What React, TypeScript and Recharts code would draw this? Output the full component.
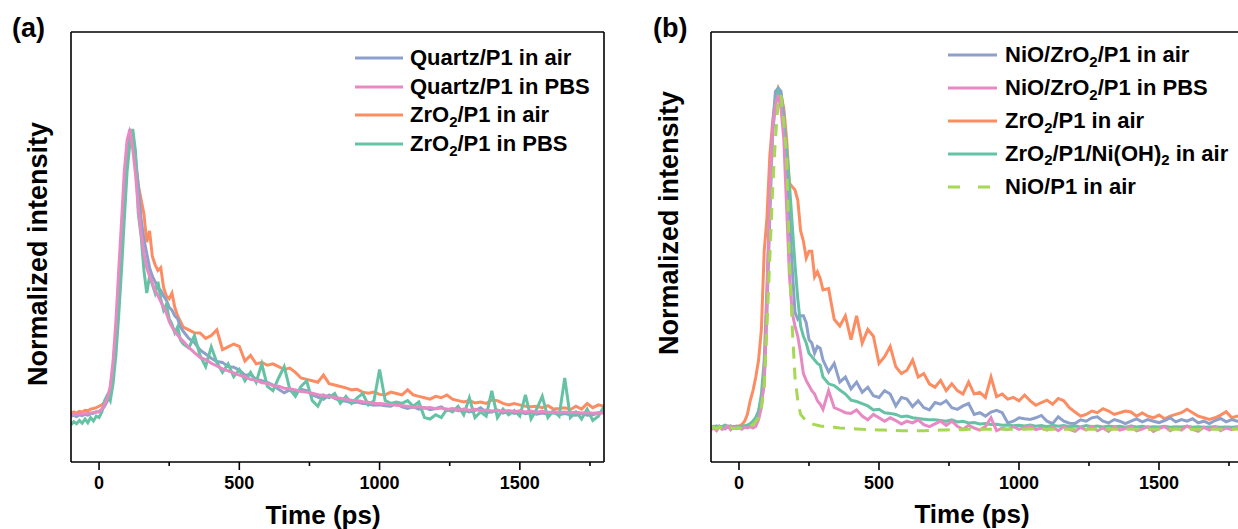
import React from "react";
import { Legend, Line, LineChart, XAxis, YAxis } from "recharts";

const FONT = "'Liberation Sans', Arial, sans-serif";

// time grid (ps), shared by both panels
const TIME_PS = [
  -100, -90, -80, -70, -60, -50, -40, -30, -20, -10,
  0, 10, 20, 30, 40, 50, 60, 70, 80, 90,
  100, 110, 120, 130, 140, 150, 160, 170, 180, 190,
  200, 210, 220, 230, 240, 250, 260, 270, 280, 290,
  300, 320, 340, 360, 380, 400, 420, 440, 460, 480,
  500, 520, 540, 560, 580, 600, 620, 640, 660, 680,
  700, 720, 740, 760, 780, 800, 820, 840, 860, 880,
  900, 920, 940, 960, 980, 1000, 1020, 1040, 1060, 1080,
  1100, 1120, 1140, 1160, 1180, 1200, 1220, 1240, 1260, 1280,
  1300, 1320, 1340, 1360, 1380, 1400, 1420, 1440, 1460, 1480,
  1500, 1520, 1540, 1560, 1580, 1600, 1620, 1640, 1660, 1680,
  1700, 1720, 1740, 1760, 1780, 1800,
];

const X_TICKS = [0, 250, 500, 750, 1000, 1250, 1500, 1750];

// ---- panel (a) ----
const QUARTZ_AIR = [
  -0.015, -0.012, -0.016, -0.01, -0.013, -0.008, -0.011, -0.006, -0.005, 0.0,
  0.002, 0.008, 0.02, 0.04, 0.08, 0.16, 0.28, 0.45, 0.63, 0.8,
  0.94, 0.99, 0.96, 0.9, 0.8, 0.68, 0.61, 0.56, 0.51, 0.48,
  0.46, 0.44, 0.43, 0.41, 0.395, 0.37, 0.36, 0.34, 0.33, 0.3,
  0.285, 0.26, 0.245, 0.219, 0.205, 0.19, 0.178, 0.175, 0.16, 0.158,
  0.148, 0.13, 0.132, 0.115, 0.11, 0.104, 0.095, 0.08, 0.068, 0.078,
  0.07, 0.08, 0.075, 0.06, 0.052, 0.045, 0.06, 0.048, 0.04, 0.038,
  0.032, 0.035, 0.03, 0.028, 0.024, 0.025, 0.022, 0.02, 0.03, 0.018,
  0.012, 0.018, 0.01, 0.015, 0.008, 0.012, 0.018, 0.005, 0.01, 0.004,
  0.006, 0.0, 0.005, 0.015, -0.002, 0.0, 0.006, -0.004, 0.002, -0.005,
  0.0, -0.006, -0.002, -0.008, -0.004, -0.008, -0.003, -0.01, -0.006, -0.01,
  -0.012, -0.006, -0.012, -0.01, -0.004, 0.0,
];

const QUARTZ_PBS = [
  -0.01, -0.01, -0.008, -0.008, -0.006, -0.006, -0.005, -0.004, -0.002, 0.0,
  0.0, 0.01, 0.025, 0.05, 0.09, 0.18, 0.32, 0.5, 0.67, 0.85,
  0.96, 1.0, 0.93, 0.84, 0.72, 0.63, 0.56, 0.51, 0.48, 0.455,
  0.43, 0.41, 0.39, 0.37, 0.35, 0.32, 0.3, 0.285, 0.272, 0.26,
  0.25, 0.228, 0.21, 0.193, 0.185, 0.172, 0.163, 0.152, 0.145, 0.138,
  0.13, 0.124, 0.115, 0.112, 0.103, 0.101, 0.093, 0.091, 0.084, 0.082,
  0.078, 0.072, 0.07, 0.066, 0.061, 0.058, 0.055, 0.05, 0.048, 0.045,
  0.041, 0.04, 0.036, 0.034, 0.031, 0.03, 0.028, 0.026, 0.024, 0.022,
  0.02, 0.016, 0.019, 0.014, 0.016, 0.011, 0.014, 0.009, 0.012, 0.007,
  0.01, 0.006, 0.009, 0.004, 0.007, 0.003, 0.006, 0.002, 0.005, 0.001,
  0.004, 0.0, 0.003, -0.001, 0.002, -0.002, 0.001, -0.002, 0.0, -0.003,
  -0.001, -0.004, -0.002, -0.005, -0.003, -0.004,
];

const ZRO2_AIR_A = [
  -0.005, 0.0, -0.004, 0.002, 0.0, 0.006, 0.004, 0.01, 0.012, 0.015,
  0.02, 0.025, 0.035, 0.05, 0.07, 0.13, 0.26, 0.43, 0.62, 0.8,
  0.93, 0.98, 0.95, 0.88, 0.8, 0.75, 0.7, 0.6, 0.64, 0.55,
  0.52, 0.5, 0.51, 0.44, 0.41, 0.4, 0.42, 0.37, 0.34, 0.32,
  0.3, 0.29, 0.28, 0.279, 0.26, 0.27, 0.29, 0.22, 0.23, 0.24,
  0.232, 0.18, 0.2, 0.17, 0.175, 0.165, 0.17, 0.16, 0.15, 0.155,
  0.14, 0.12, 0.115, 0.11, 0.105, 0.13, 0.1, 0.095, 0.09, 0.085,
  0.078, 0.08, 0.07, 0.066, 0.07, 0.062, 0.06, 0.07, 0.065, 0.06,
  0.078, 0.06, 0.055, 0.05, 0.045, 0.055, 0.05, 0.06, 0.045, 0.04,
  0.035, 0.04, 0.032, 0.035, 0.03, 0.042, 0.04, 0.03, 0.025, 0.03,
  0.025, 0.02, 0.018, 0.02, 0.015, 0.022, 0.01, 0.012, 0.015, 0.008,
  0.02, 0.01, 0.03, 0.015, 0.025, 0.02,
];

const ZRO2_PBS_A = [
  -0.045, -0.035, -0.042, -0.03, -0.04, -0.025, -0.038, -0.02, -0.032, -0.015,
  -0.02, 0.0, 0.04, 0.06, 0.04, 0.1, 0.2, 0.34, 0.5, 0.68,
  0.85, 0.95, 1.0, 0.92, 0.7, 0.62, 0.5, 0.42, 0.48, 0.45,
  0.42, 0.46, 0.4, 0.36, 0.38, 0.33, 0.31, 0.28, 0.3, 0.255,
  0.24, 0.226, 0.27, 0.2, 0.16, 0.23, 0.175, 0.14, 0.17, 0.125,
  0.15, 0.11, 0.14, 0.105, 0.17, 0.09, 0.075, 0.12, 0.16, 0.08,
  0.055, 0.09, 0.11, 0.04, 0.02, 0.06, 0.05, 0.065, 0.03, 0.055,
  0.03, 0.05, 0.065, 0.025, 0.04, 0.15, 0.04, 0.03, 0.035, 0.03,
  0.04, 0.02, 0.035, -0.02, -0.025, -0.01, -0.02, 0.01, 0.0, 0.02,
  -0.01, 0.05, -0.02, 0.0, -0.015, 0.075, -0.02, 0.01, -0.01, 0.005,
  -0.015, 0.06, -0.025, 0.01, 0.055, -0.02, 0.005, -0.015, 0.12, -0.02,
  0.0, -0.025, 0.01, -0.03, -0.015, 0.02,
];

// ---- panel (b) ----
const NIO_ZRO2_AIR = [
  0.0, 0.004, -0.002, 0.006, 0.002, -0.003, 0.004, 0.0, 0.005, 0.002,
  0.002, 0.005, 0.006, 0.008, 0.012, 0.02, 0.03, 0.05, 0.08, 0.13,
  0.35, 0.62, 0.88, 0.99, 1.0, 0.99, 0.92, 0.8, 0.63, 0.47,
  0.34, 0.32, 0.33, 0.33, 0.31, 0.26, 0.25, 0.22, 0.24, 0.235,
  0.2, 0.165, 0.19, 0.135, 0.15, 0.115, 0.135, 0.105, 0.12, 0.095,
  0.09, 0.11, 0.1, 0.065, 0.09, 0.085, 0.063, 0.08, 0.06, 0.053,
  0.075, 0.07, 0.08, 0.06, 0.055, 0.065, 0.072, 0.04, 0.045, 0.035,
  0.047, 0.052, 0.045, 0.015, 0.02, 0.03, 0.027, 0.025, 0.03, 0.037,
  0.02, 0.013, 0.033, 0.02, 0.014, 0.013, 0.024, 0.02, 0.03, 0.033,
  0.02, 0.015, 0.025, 0.02, 0.013, 0.02, 0.027, 0.018, 0.025, 0.02,
  0.016, 0.022, 0.03, 0.018, 0.025, 0.02, 0.027, 0.015, 0.02, 0.013,
  0.022, 0.028, 0.018, 0.025, 0.02, 0.022,
];

const NIO_ZRO2_PBS = [
  -0.005, 0.0, -0.008, 0.004, -0.004, 0.0, 0.006, -0.005, 0.002, -0.002,
  0.0, -0.004, 0.002, 0.0, 0.004, 0.0, 0.005, 0.025, 0.06, 0.14,
  0.38, 0.68, 0.88, 0.95, 0.98, 0.94, 0.85, 0.65, 0.45, 0.34,
  0.3, 0.27, 0.22, 0.16, 0.14, 0.125, 0.11, 0.1, 0.08, 0.07,
  0.055, 0.11, 0.06, 0.053, 0.045, 0.043, 0.053, 0.035, 0.024, 0.04,
  0.03, 0.02, 0.03, 0.022, 0.012, 0.02, 0.015, 0.024, 0.01, 0.004,
  0.012, 0.02, 0.008, 0.02, 0.005, -0.004, 0.008, 0.0, -0.006, 0.004,
  0.03, -0.008, 0.0, -0.005, 0.004, -0.004, 0.002, 0.006, -0.005, 0.0,
  -0.006, 0.003, -0.008, 0.004, -0.004, -0.01, 0.002, -0.006, 0.005, -0.008,
  0.0, -0.01, 0.004, -0.006, -0.002, 0.005, -0.008, -0.003, 0.004, -0.01,
  -0.002, 0.004, -0.008, 0.0, -0.006, 0.006, -0.004, -0.01, 0.002, -0.006,
  0.004, -0.008, 0.0, -0.005, 0.002, -0.004,
];

const ZRO2_AIR_B = [
  0.0, 0.005, -0.003, 0.004, 0.0, 0.008, 0.002, 0.006, 0.0, 0.005,
  0.005, 0.01, 0.02, 0.04, 0.08, 0.11, 0.15, 0.2, 0.29, 0.52,
  0.62, 0.8, 0.9, 0.97, 1.0, 0.98, 0.94, 0.85, 0.72, 0.71,
  0.7, 0.67, 0.58, 0.55, 0.5, 0.52, 0.52, 0.445, 0.46, 0.44,
  0.406, 0.41, 0.32, 0.3, 0.33, 0.26, 0.33, 0.25, 0.29, 0.27,
  0.19, 0.21, 0.24, 0.18, 0.16, 0.17, 0.2, 0.15, 0.16, 0.13,
  0.12, 0.14, 0.11, 0.13, 0.11, 0.1, 0.135, 0.1, 0.105, 0.09,
  0.15, 0.092, 0.1, 0.085, 0.09, 0.08, 0.097, 0.08, 0.067, 0.075,
  0.082, 0.07, 0.087, 0.08, 0.06, 0.047, 0.035, 0.04, 0.05, 0.045,
  0.057, 0.05, 0.04, 0.045, 0.05, 0.047, 0.035, 0.044, 0.035, 0.03,
  0.038, 0.027, 0.035, 0.04, 0.045, 0.055, 0.045, 0.035, 0.03, 0.025,
  0.03, 0.038, 0.048, 0.03, 0.035, 0.03,
];

const ZRO2_NIOH2_AIR = [
  0.0, 0.003, 0.006, 0.002, 0.005, 0.008, 0.004, 0.006, 0.003, 0.005,
  0.005, 0.004, 0.006, 0.008, 0.012, 0.02, 0.03, 0.05, 0.1, 0.2,
  0.42, 0.66, 0.86, 0.96, 0.99, 0.96, 0.9, 0.82, 0.72, 0.6,
  0.48, 0.38, 0.3, 0.27, 0.25, 0.22, 0.21, 0.2, 0.19, 0.185,
  0.15, 0.13, 0.125, 0.112, 0.1, 0.082, 0.078, 0.072, 0.065, 0.053,
  0.055, 0.045, 0.043, 0.04, 0.033, 0.035, 0.03, 0.028, 0.026, 0.024,
  0.024, 0.022, 0.02, 0.024, 0.018, 0.02, 0.015, 0.016, 0.012, 0.013,
  0.01, 0.011, 0.008, 0.009, 0.007, 0.008, 0.006, 0.009, 0.005, 0.007,
  0.004, 0.008, 0.005, 0.007, 0.004, 0.006, 0.003, 0.007, 0.004, 0.006,
  0.003, 0.006, 0.004, 0.005, 0.002, 0.006, 0.003, 0.005, 0.002, 0.004,
  0.003, 0.005, 0.002, 0.004, 0.003, 0.005, 0.002, 0.004, 0.002, 0.003,
  0.004, 0.002, 0.003, 0.002, 0.004, 0.003,
];

const NIO_AIR = [
  0.0, 0.002, -0.002, 0.003, 0.0, 0.004, 0.0, 0.002, -0.002, 0.0,
  0.0, 0.0, 0.002, 0.004, 0.006, 0.01, 0.02, 0.03, 0.06, 0.12,
  0.3, 0.5, 0.7, 0.85, 0.96, 0.98, 0.9, 0.8, 0.5, 0.3,
  0.15, 0.08, 0.04, 0.03, 0.02, 0.014, 0.012, 0.01, 0.008, 0.006,
  0.005, 0.003, 0.002, 0.0, -0.001, -0.002, -0.003, -0.004, -0.005, -0.005,
  -0.006, -0.006, -0.007, -0.007, -0.008, -0.008, -0.008, -0.008, -0.008, -0.007,
  -0.007, -0.006, -0.006, -0.005, -0.005, -0.005, -0.004, -0.004, -0.004, -0.004,
  -0.004, -0.004, -0.004, -0.003, -0.004, -0.004, -0.004, -0.003, -0.003, -0.004,
  -0.004, -0.004, -0.004, -0.004, -0.004, -0.004, -0.004, -0.004, -0.004, -0.004,
  -0.004, -0.004, -0.004, -0.004, -0.004, -0.004, -0.004, -0.004, -0.004, -0.004,
  -0.004, -0.004, -0.004, -0.004, -0.004, -0.004, -0.004, -0.004, -0.004, -0.004,
  -0.004, -0.004, -0.004, -0.004, -0.004, -0.004,
];

const BLUE = "#8da0cb";
const PINK = "#e78ac3";
const ORANGE = "#fc8d62";
const GREEN = "#66c2a5";
const LIME = "#a6d854";

const rowsA = TIME_PS.map((t, i) => ({
  t,
  quartzAir: QUARTZ_AIR[i],
  quartzPbs: QUARTZ_PBS[i],
  zro2Air: ZRO2_AIR_A[i],
  zro2Pbs: ZRO2_PBS_A[i],
}));

const rowsB = TIME_PS.map((t, i) => ({
  t,
  nioZro2Air: NIO_ZRO2_AIR[i],
  nioZro2Pbs: NIO_ZRO2_PBS[i],
  zro2Air: ZRO2_AIR_B[i],
  zro2NiOH2: ZRO2_NIOH2_AIR[i],
  nioAir: NIO_AIR[i],
}));

type Item = { key: string; label: string; color: string; dash?: boolean };

// legend order as in the figure; draw order is set separately below
const LEGEND_A: Item[] = [
  { key: "quartzAir", label: "Quartz/P1 in air", color: BLUE },
  { key: "quartzPbs", label: "Quartz/P1 in PBS", color: PINK },
  { key: "zro2Air", label: "ZrO_2/P1 in air", color: ORANGE },
  { key: "zro2Pbs", label: "ZrO_2/P1 in PBS", color: GREEN },
];

const LEGEND_B: Item[] = [
  { key: "nioZro2Air", label: "NiO/ZrO_2/P1 in air", color: BLUE },
  { key: "nioZro2Pbs", label: "NiO/ZrO_2/P1 in PBS", color: PINK },
  { key: "zro2Air", label: "ZrO_2/P1 in air", color: ORANGE },
  { key: "zro2NiOH2", label: "ZrO_2/P1/Ni(OH)_2 in air", color: GREEN },
  { key: "nioAir", label: "NiO/P1 in air", color: LIME, dash: true },
];

const AXIS = { stroke: "#000", strokeWidth: 1.6 };

function Chem({ text }: { text: string }) {
  // "_2" -> subscript 2
  const parts = text.split(/_(\d)/);
  return (
    <>
      {parts.map((p, i) =>
        i % 2 === 1 ? (
          <span key={i} style={{ fontSize: "0.68em", position: "relative", top: "0.32em" }}>
            {p}
          </span>
        ) : (
          <React.Fragment key={i}>{p}</React.Fragment>
        )
      )}
    </>
  );
}

function LegendBox({ items, rowHeight, lineWidth, gap, dashLegend }: any) {
  return (
    <div style={{ fontFamily: FONT }}>
      {items.map((it: Item) => (
        <div key={it.key} style={{ display: "flex", alignItems: "center", height: rowHeight }}>
          <svg width={lineWidth} height={6} style={{ display: "block" }}>
            <line
              x1={0}
              x2={lineWidth}
              y1={3}
              y2={3}
              stroke={it.color}
              strokeWidth={3}
              strokeDasharray={it.dash ? dashLegend : undefined}
            />
          </svg>
          <span
            style={{
              marginLeft: gap,
              fontSize: 22,
              fontWeight: "bold",
              lineHeight: 1,
              whiteSpace: "nowrap",
              color: "#000",
            }}
          >
            <Chem text={it.label} />
          </span>
        </div>
      ))}
    </div>
  );
}

function TimeTick(props: any) {
  const { x, y, payload } = props;
  const major = payload.value % 500 === 0;
  return (
    <g>
      <line x1={x} x2={x} y1={y} y2={y + (major ? 8 : 4)} stroke="#000" strokeWidth={1.6} />
      {major && (
        <text
          x={x}
          y={y + 27}
          textAnchor="middle"
          fontSize={18}
          fontWeight="bold"
          fontFamily={FONT}
          fill="#000"
        >
          {payload.value}
        </text>
      )}
    </g>
  );
}

// axes are 1px thick boxes (a 0 size axis is not drawn); margins are reduced by 1
function axes(yDomain: number[]) {
  return [
    <XAxis
      key="xb"
      xAxisId="x"
      dataKey="t"
      type="number"
      domain={[-100, 1800]}
      allowDataOverflow
      ticks={X_TICKS}
      interval={0}
      height={1}
      tickSize={0}
      tickMargin={0}
      tickLine={false}
      axisLine={AXIS}
      tick={<TimeTick />}
    />,
    <XAxis
      key="xt"
      xAxisId="top"
      orientation="top"
      dataKey="t"
      type="number"
      domain={[-100, 1800]}
      allowDataOverflow
      height={1}
      tick={false}
      tickLine={false}
      axisLine={AXIS}
    />,
    <YAxis
      key="yl"
      yAxisId="y"
      type="number"
      domain={yDomain}
      allowDataOverflow
      width={1}
      tick={false}
      tickLine={false}
      axisLine={AXIS}
    />,
    <YAxis
      key="yr"
      yAxisId="right"
      orientation="right"
      type="number"
      domain={yDomain}
      allowDataOverflow
      width={1}
      tick={false}
      tickLine={false}
      axisLine={AXIS}
    />,
  ];
}

function series(key: string, color: string, dash?: string) {
  return (
    <Line
      key={key}
      xAxisId="x"
      yAxisId="y"
      type="linear"
      dataKey={key}
      stroke={color}
      strokeWidth={3}
      strokeDasharray={dash}
      dot={false}
      activeDot={false}
      isAnimationActive={false}
    />
  );
}

export default function App() {
  return (
    <div
      style={{
        position: "absolute",
        left: 0,
        top: 0,
        width: 1238,
        height: 529,
        overflow: "hidden",
        background: "#fff",
        fontFamily: FONT,
      }}
    >
      <div style={{ position: "absolute", left: 0, top: 0 }}>
        <LineChart width={620} height={529} data={rowsA} margin={{ top: 31, right: 15, bottom: 66, left: 70 }}>
          {axes([-0.177, 1.343])}
          {series("zro2Air", ORANGE)}
          {series("quartzAir", BLUE)}
          {series("zro2Pbs", GREEN)}
          {series("quartzPbs", PINK)}
          <Legend
            layout="vertical"
            align="center"
            verticalAlign="middle"
            wrapperStyle={{ left: 355, top: 44, width: "auto" }}
            content={() => <LegendBox items={LEGEND_A} rowHeight={28.5} lineWidth={48} gap={7} />}
          />
        </LineChart>
      </div>

      <div style={{ position: "absolute", left: 620, top: 0 }}>
        <LineChart width={630} height={529} data={rowsB} margin={{ top: 31, right: 6, bottom: 66, left: 90 }}>
          {axes([-0.1, 1.165])}
          {series("zro2Air", ORANGE)}
          {series("nioZro2Air", BLUE)}
          {series("zro2NiOH2", GREEN)}
          {series("nioZro2Pbs", PINK)}
          {series("nioAir", LIME, "12 9")}
          <Legend
            layout="vertical"
            align="center"
            verticalAlign="middle"
            wrapperStyle={{ left: 328, top: 38.5, width: "auto" }}
            content={() => (
              <LegendBox items={LEGEND_B} rowHeight={32.9} lineWidth={49} gap={8} dashLegend="12 18" />
            )}
          />
        </LineChart>
      </div>

      {/* panel tags and axis titles */}
      <svg
        width={1238}
        height={529}
        style={{ position: "absolute", left: 0, top: 0, pointerEvents: "none" }}
        fontFamily={FONT}
        fontWeight="bold"
      >
        <text x={12} y={37} fontSize={27}>(a)</text>
        <text x={653} y={37} fontSize={27}>(b)</text>
        <text x={323} y={524} fontSize={26} textAnchor="middle">Time (ps)</text>
        <text x={972} y={523} fontSize={26} textAnchor="middle">Time (ps)</text>
        <text transform="translate(47 254) rotate(-90)" fontSize={27} textAnchor="middle">
          Normalized intensity
        </text>
        <text transform="translate(678 223) rotate(-90)" fontSize={27} textAnchor="middle">
          Normalized intensity
        </text>
      </svg>
    </div>
  );
}
